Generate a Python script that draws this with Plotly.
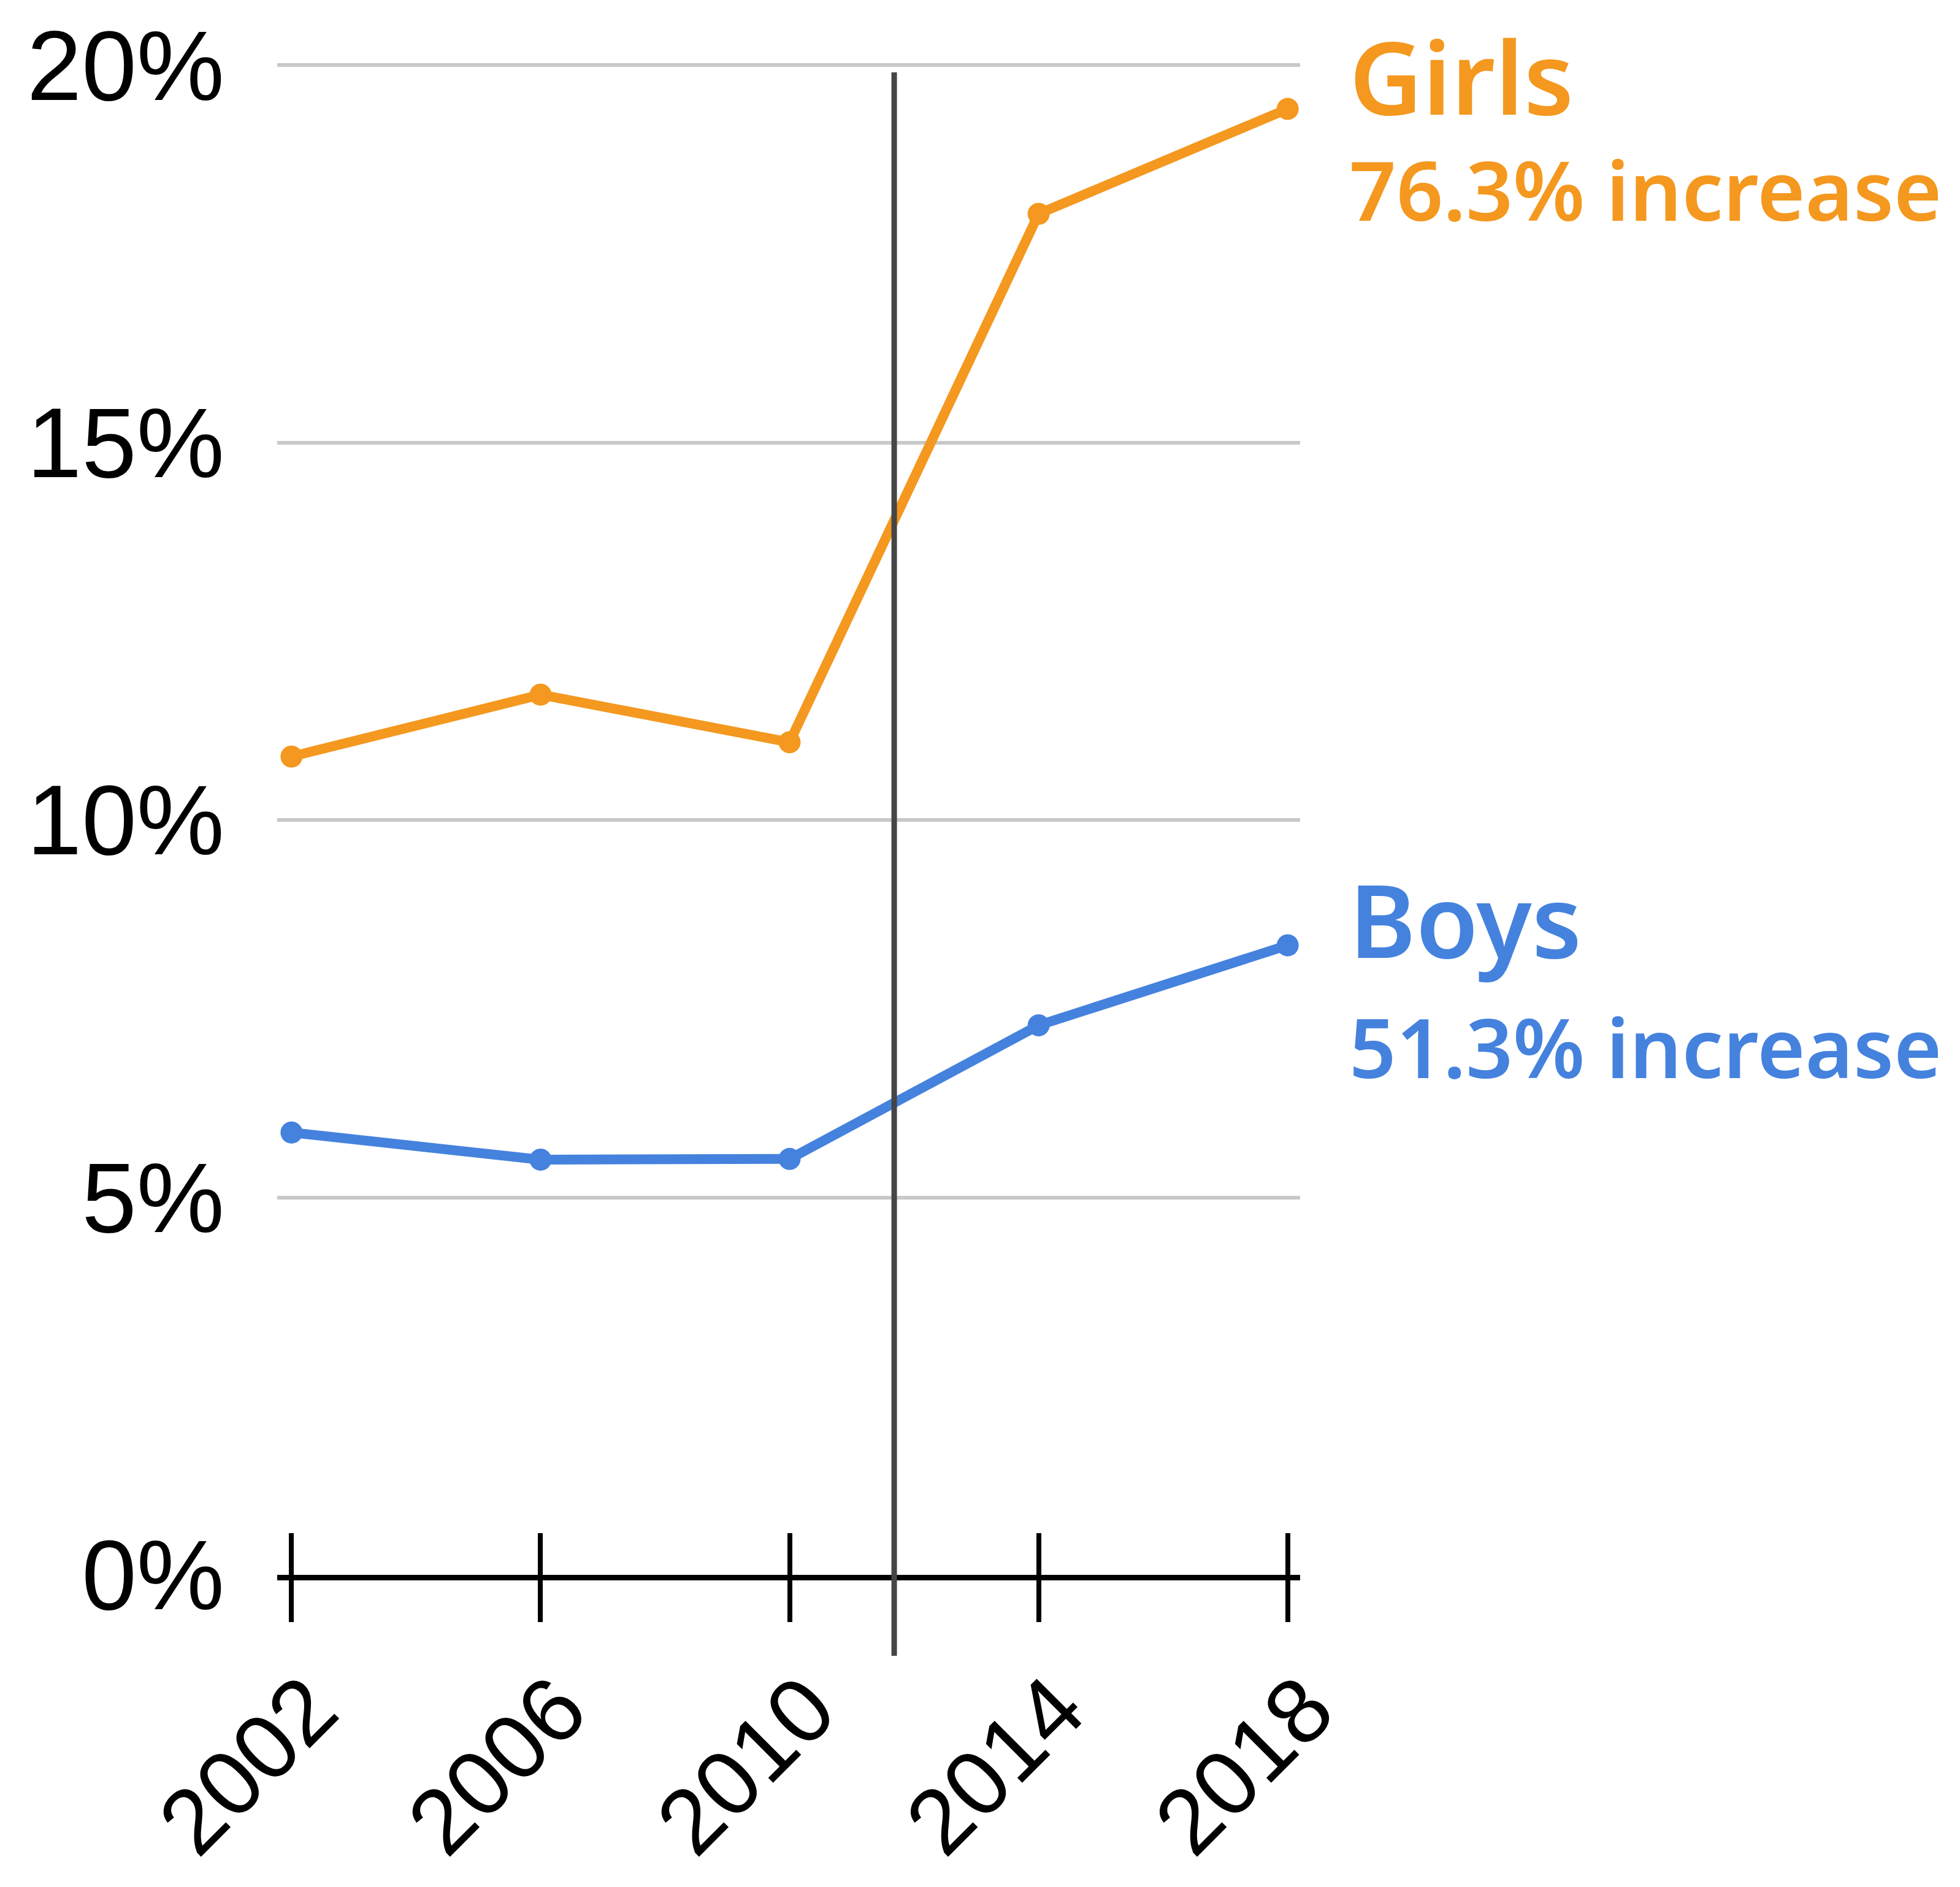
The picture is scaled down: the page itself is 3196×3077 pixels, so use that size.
import plotly.graph_objects as go

years = [2002, 2006, 2010, 2014, 2018]
girls = [10.84, 11.66, 11.03, 18.03, 19.42]
boys = [5.86, 5.50, 5.51, 7.28, 8.34]
y_ticks = [0, 5, 10, 15, 20]
y_tick_labels = ["0%", "5%", "10%", "15%", "20%"]
girls_label = "Girls"
girls_note = "76.3% increase"
boys_label = "Boys"
boys_note = "51.3% increase"
marker_year = 2011.68

ORANGE = "#F4981F"
BLUE = "#4582DE"

fig = go.Figure()
fig.add_trace(go.Scatter(x=years, y=girls, mode="lines+markers",
                         line=dict(color=ORANGE, width=16),
                         marker=dict(color=ORANGE, size=36),
                         showlegend=False, cliponaxis=False))
fig.add_trace(go.Scatter(x=years, y=boys, mode="lines+markers",
                         line=dict(color=BLUE, width=16),
                         marker=dict(color=BLUE, size=36),
                         showlegend=False, cliponaxis=False))
# invisible trace on overlay axis (for the inward half of the cross ticks)
fig.add_trace(go.Scatter(x=years, y=boys, xaxis="x2", mode="markers",
                         marker=dict(opacity=0), showlegend=False, hoverinfo="skip"))

fig.add_shape(type="line", xref="x", yref="paper", x0=marker_year, x1=marker_year,
              y0=-0.0535, y1=0.9927, line=dict(color="#454545", width=9), layer="above")

tick_font = dict(family="Liberation Sans, Arial, sans-serif", size=161, color="#000000")
xr = [2001.77, 2018.2]
fig.update_layout(
    width=3180, height=3061,
    margin=dict(l=444, r=1068, t=92, b=501),
    plot_bgcolor="white", paper_bgcolor="white",
    xaxis=dict(range=xr, tickvals=years, ticktext=[str(y) for y in years],
               tickangle=-45, tickfont=dict(family="Liberation Sans, Arial, sans-serif",
                                            size=150, color="#000000"),
               automargin=False,
               ticks="outside", ticklen=68, tickwidth=8, tickcolor="black",
               showline=True, linecolor="black", linewidth=9,
               showgrid=False, zeroline=False, ticklabelstandoff=-6,
               ticklabelshift=30),
    xaxis2=dict(range=xr, overlaying="x", anchor="y", side="bottom",
                tickvals=years, ticks="inside", ticklen=68, tickwidth=8,
                tickcolor="black", showticklabels=False, showgrid=False,
                zeroline=False, showline=False, automargin=False),
    yaxis=dict(range=[0, 20.05], tickvals=y_ticks, ticktext=y_tick_labels,
               tickfont=tick_font, showgrid=True, gridcolor="#c8c8c8", gridwidth=6,
               zeroline=False, showline=False, ticks="", ticklabelstandoff=85,
               automargin=False),
)

lab_font = "Noto Sans, Open Sans, sans-serif"
fig.add_annotation(x=years[-1], y=1, xref="x", yref="paper", text=girls_label,
                   showarrow=False, xanchor="left", yanchor="top", xshift=98, yshift=91,
                   font=dict(family=lab_font, size=165, color=ORANGE, weight=600))
for txt, yv, size, col in [
    (girls_note, 18.36, 134, ORANGE),
    (boys_label, 8.69, 165, BLUE),
    (boys_note, 7.0, 134, BLUE),
]:
    fig.add_annotation(x=years[-1], y=yv, xref="x", yref="y", text=txt,
                       showarrow=False, xanchor="left", yanchor="middle", xshift=98,
                       font=dict(family=lab_font, size=size, color=col, weight=600))

fig.write_html("out.html")
